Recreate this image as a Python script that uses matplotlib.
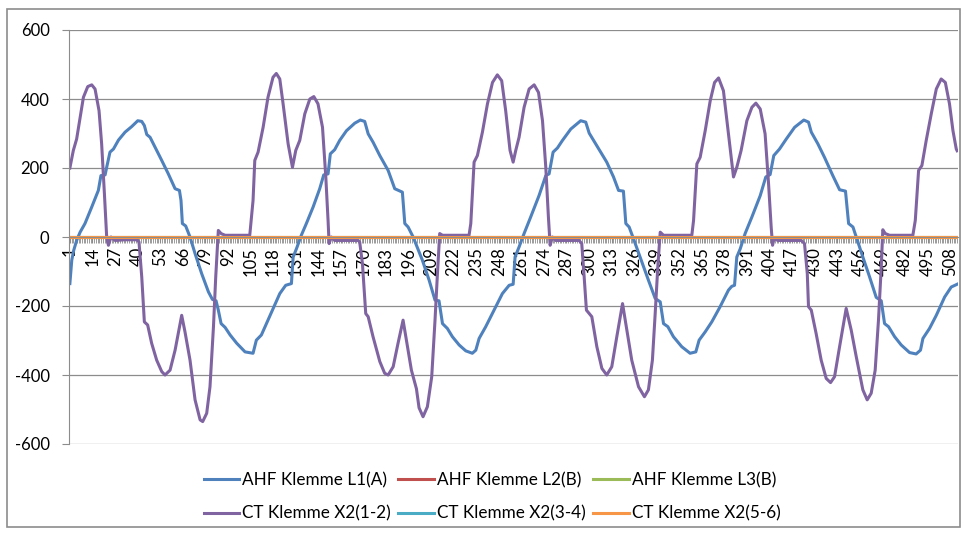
import matplotlib
matplotlib.use("Agg")
import matplotlib.pyplot as plt
from matplotlib.patches import Rectangle

plt.rcParams['font.family'] = ['Lato', 'DejaVu Sans']
plt.rcParams['axes.unicode_minus'] = False

# Messpunkte (Index 1..512), Stützpunkte
n_points = 512
categories = list(range(1, n_points + 1))
tick_labels = list(range(1, n_points + 1, 13))

l1_x = [1, 2.1, 3.2, 4.9, 6.9, 9.7, 13.6, 17.4, 18.9, 21.3, 22.2, 24.1, 26.1, 29, 32.8, 36.6, 40.1, 42.4,
        43.9, 45.3, 47.2, 50.1, 53.9, 57.7, 61.6, 64.1, 65, 65.8, 67.7, 70.2, 73.1, 76.9, 80.8, 83.1, 85.2,
        86.5, 88.1, 90.4, 93.3, 97.1, 101.9, 106.5, 108.4, 111.3, 114.2, 118, 121.9, 125.3, 128.6, 129.6,
        131.5, 134.3, 137.2, 141.1, 144.9, 147.2, 149.7, 151, 153.5, 156.4, 160.3, 165.1, 168.3, 170.8,
        172.8, 175.6, 179.5, 184.3, 188.1, 192.5, 193.9, 195.8, 198.7, 204, 207.9, 211.3, 213.6, 215.6,
        218.4, 221.3, 225.2, 229, 232.8, 234.8, 236.7, 240.5, 245.3, 250.1, 254, 256.3, 257.4, 259.7,
        262.6, 266.4, 271.2, 275.1, 277, 279.3, 281.8, 284.7, 289.5, 295.2, 298.1, 300.1, 304.8, 310.2,
        314.1, 317, 319.8, 321.2, 323.1, 325.6, 329.4, 334.2, 338.1, 341, 342.9, 345.4, 348.6, 353.4,
        358.2, 361.5, 363.4, 366.9, 370.7, 375.5, 380.3, 382.2, 383.8, 385.1, 387.1, 389.9, 393.8, 398.6,
        401.8, 404.3, 406.4, 409.7, 413.6, 418.4, 423.7, 426.4, 428, 431.8, 435.6, 440.4, 444.3, 447.7,
        449.5, 452, 453.9, 457.7, 461.6, 465.4, 468.3, 470.2, 472.5, 476, 479.8, 484.6, 488.4, 490.9,
        492.3, 496.1, 500, 504.8, 508.6, 512]
l1_y = [-135, -67, -39, -10, 14, 39, 87, 135, 178, 180, 202, 246, 255, 281, 304, 320, 337, 335,
        323, 297, 289, 260, 222, 183, 140, 135, 106, 39, 32, 0, -48, -106, -159, -181, -185,
        -212, -251, -262, -284, -308, -333, -337, -299, -284, -251, -207, -164, -140, -135, -58,
        -34, 5, 39, 87, 140, 180, 183, 241, 253, 280, 308, 330, 339, 335,
        299, 275, 236, 193, 140, 130, 39, 29, 0, -67, -125, -183, -185, -251,
        -265, -289, -313, -330, -337, -328, -294, -260, -212, -164, -140, -137, -58, -29,
        10, 58, 120, 178, 183, 246, 258, 280, 313, 337, 333, 301, 262, 217,
        174, 135, 133, 39, 29, -5, -58, -125, -178, -188, -251, -260, -289, -318,
        -337, -333, -299, -275, -246, -202, -154, -143, -140, -58, -34, 10, 58, 120,
        174, 181, 236, 255, 284, 318, 339, 333, 304, 270, 231, 178, 137, 133,
        39, 29, 0, -58, -116, -175, -185, -251, -260, -289, -313, -335, -339, -328,
        -294, -265, -227, -174, -145, -137]

x12_x = [1, 3, 4.9, 6.9, 8.8, 11.3, 13.6, 15.5, 17.8, 19.3, 20.9, 22.2, 23.2, 24.7, 27, 32.8, 39.5, 40.8,
         42.4, 43.9, 45.8, 48.1, 51, 53.9, 55.8, 58.7, 61.6, 65.4, 67.3, 70.2, 73.1, 76, 77.5, 79.8, 81.7,
         83.7, 85, 86.5, 88.1, 90.4, 104.6, 106.5, 107.5, 109.4, 112.3, 115.1, 118, 119.9, 121.9, 123.8,
         126.7, 129.2, 131.1, 133.4, 136.3, 139.2, 141.5, 143.9, 146.5, 148.4, 149.7, 150.3, 151.6, 153.5,
         167, 167.9, 169.5, 171.4, 172.8, 175.6, 179.5, 182.3, 184.3, 187.2, 190, 192.9, 194.8, 197.7,
         200.6, 202.1, 204.4, 206.9, 209.4, 211.3, 212.7, 214, 215.6, 230.9, 231.9, 233.8, 235.7, 238.6,
         241.5, 244.4, 247.2, 249.7, 252, 254.5, 256.3, 257.8, 259.7, 262.6, 265.5, 268.4, 270.9, 273.2,
         275.1, 276.6, 277.6, 278.9, 280.8, 294.3, 295.8, 297.2, 298.5, 300.1, 301.6, 304.5, 307.4, 310.2,
         313.1, 316, 319.3, 321.8, 324.6, 328.5, 331.9, 334.2, 336.5, 338.1, 339.6, 341, 342.9, 359.2,
         360.2, 362.1, 364, 366.9, 369.8, 372.3, 374.6, 377.4, 380.3, 383.2, 385.1, 387.6, 390.9, 393.8,
         396.1, 398.6, 401.4, 403.4, 404.9, 405.7, 406.5, 408.8, 422.2, 424.1, 425.7, 426.4, 428, 430.8,
         433.7, 436.6, 439.1, 441.4, 444.3, 448.1, 451, 453.9, 457.7, 460.2, 462.5, 464.8, 466.7, 468.3,
         469.2, 470.6, 473.1, 486.5, 487.9, 489.8, 491.7, 494.2, 497.1, 500, 502.8, 505.2, 507.6, 509.6,
         511.5, 512]
x12_y = [200, 251, 284, 347, 405, 436, 441, 429, 366, 270, 125, 0, -24, 0, -10, -8, -8, -14,
         -116, -246, -255, -308, -357, -390, -400, -386, -328, -227, -275, -357, -472, -530, -535, -511, -434,
         -260, -116, 19, 10, 5, 5, 106, 222, 246, 318, 405, 463, 474, 458, 386,
         270, 202, 251, 280, 357, 400, 407, 386, 318, 174, 48, -19, 0, -10,
         -10, -14, -77, -222, -231, -289, -361, -395, -400, -376, -308, -241, -299, -386,
         -440, -495, -521, -492, -405, -241, -106, 10, 5, 5, 39, 217, 236, 304,
         386, 448, 470, 453, 366, 251, 217, 251, 289, 376, 429, 441, 419, 337,
         202, 58, -24, 0, -10, -10, -19, -116, -212, -222, -231, -318, -381, -400,
         -376, -289, -193, -270, -357, -434, -463, -443, -357, -222, -87, 14, 5, 5,
         48, 212, 231, 308, 395, 448, 461, 424, 299, 174, 202, 251, 337, 376,
         388, 371, 299, 154, 29, -24, -5, -10, -10, -19, -106, -202, -212, -280,
         -357, -410, -422, -405, -318, -207, -270, -347, -443, -472, -453, -386, -241, -87,
         21, 10, 5, 5, 48, 193, 207, 280, 357, 429, 458, 448, 386, 308,
         255, 250]

# die übrigen Kanäle liegen durchgehend bei 0
l2_y = [0] * n_points
l3_y = [0] * n_points
x34_y = [0] * n_points
x56_y = [0] * n_points

fig = plt.figure(figsize=(9.64, 5.34), dpi=100)
ax = fig.add_axes([69 / 964, 1 - 444 / 534, 889 / 964, 414 / 534])

# Rahmen um das Diagramm (wie in Excel)
fig.patches.append(Rectangle((7 / 964, 1 - 527 / 534), 953 / 964, 518 / 534, transform=fig.transFigure,
                             fill=False, edgecolor='#8c8c8c', linewidth=1.2))

lw = 2.2
h_l1, = ax.plot(l1_x, l1_y, color='#4F81BD', lw=lw, label='AHF Klemme L1(A)')
h_l2, = ax.plot(categories, l2_y, color='#C0504D', lw=lw, label='AHF Klemme L2(B)')
h_l3, = ax.plot(categories, l3_y, color='#9BBB59', lw=lw, label='AHF Klemme L3(B)')
h_x12, = ax.plot(x12_x, x12_y, color='#8064A2', lw=lw, label='CT Klemme X2(1-2)')
h_x34, = ax.plot(categories, x34_y, color='#4BACC6', lw=lw, label='CT Klemme X2(3-4)')
h_x56, = ax.plot(categories, x56_y, color='#F79646', lw=lw, label='CT Klemme X2(5-6)')

ax.set_xlim(0.5, n_points + 0.5)
ax.set_ylim(-600, 600)
ax.set_yticks(range(-600, 601, 200))
ax.grid(axis='y', color='#8c8c8c', lw=0.9)
ax.set_axisbelow(True)

for s in ['top', 'right']:
    ax.spines[s].set_visible(False)
ax.spines['left'].set_color('#8c8c8c')
ax.spines['bottom'].set_position(('data', 0))
ax.spines['bottom'].set_color('#8c8c8c')

ax.set_xticks(tick_labels)
ax.set_xticklabels([str(t) for t in tick_labels], rotation=90, fontsize=12)
ax.set_xticks(categories, minor=True)
ax.tick_params(axis='x', which='both', direction='out', length=4, color='#8c8c8c', pad=3)
ax.tick_params(axis='y', direction='out', length=5, color='#8c8c8c', labelsize=12, pad=9)

handles = [h_l1, h_x12, h_l2, h_x34, h_l3, h_x56]
ax.legend(handles=handles, labels=[h.get_label() for h in handles], ncol=3, frameon=False,
          loc='center', bbox_to_anchor=(492 / 964, 1 - 497 / 534), bbox_transform=fig.transFigure,
          fontsize=12.3, handlelength=2.1, handletextpad=0.15, columnspacing=0.45, labelspacing=1.0)

fig.savefig('out.png', dpi=100)
